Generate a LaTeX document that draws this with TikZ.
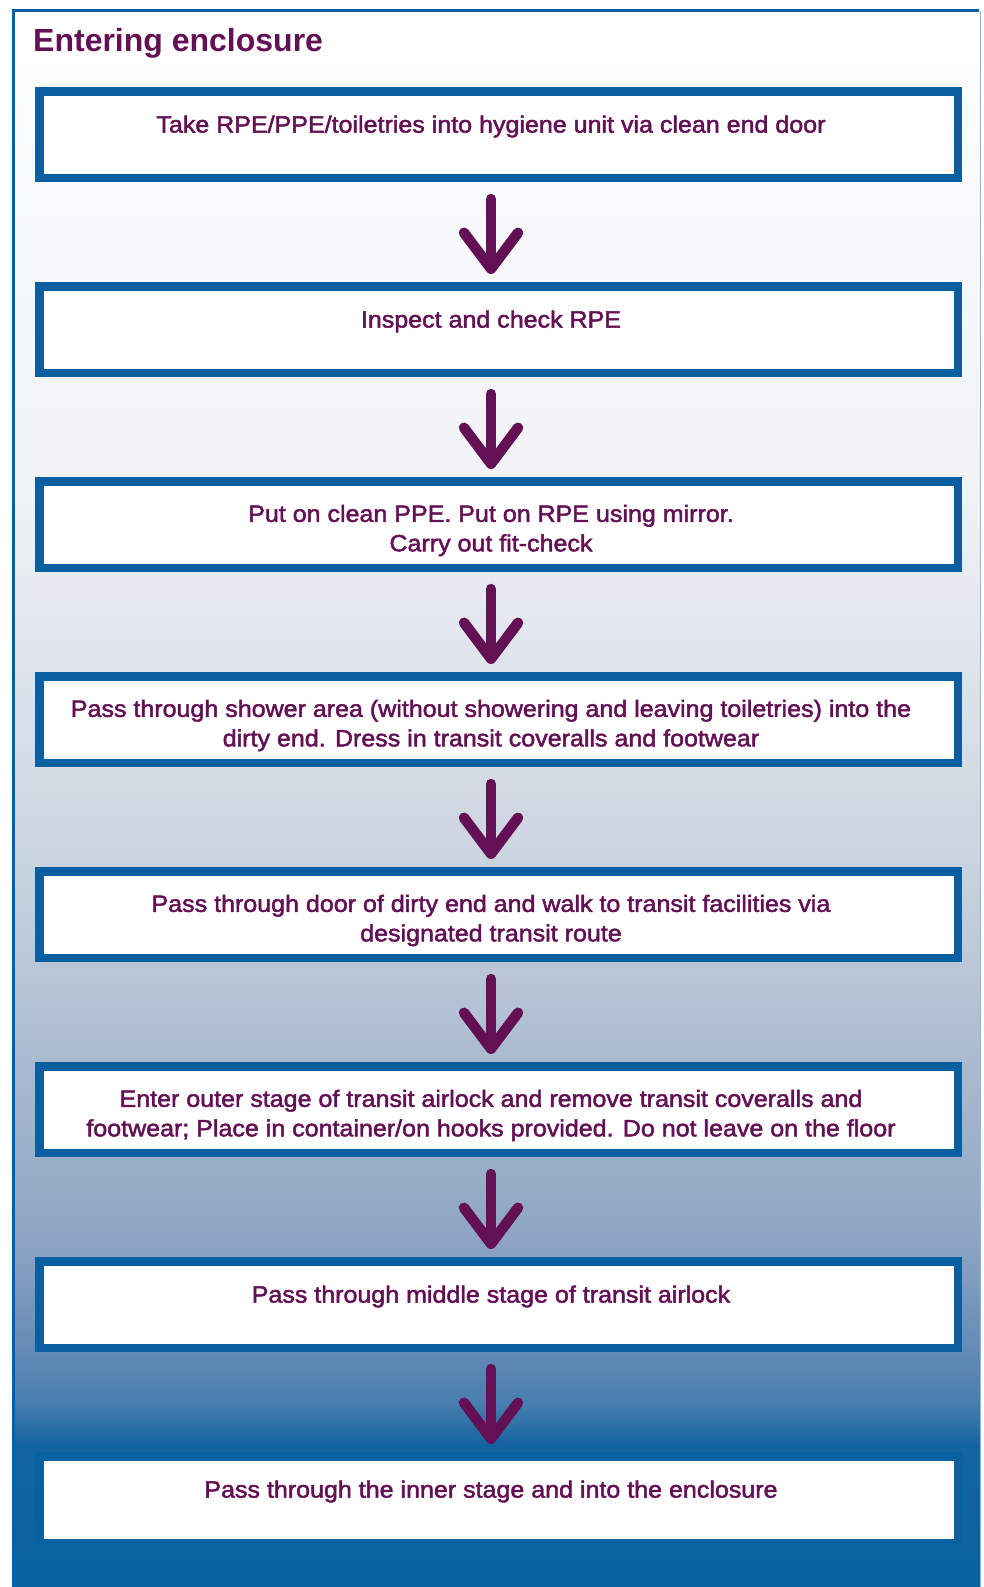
\documentclass[tikz,border=0pt]{standalone}
\usepackage{fontspec}
\setmainfont{Liberation Sans}
\newfontfamily\stepfont[FakeBold=2,FakeStretch=1.065]{Liberation Sans}
\usetikzlibrary{arrows.meta}
\definecolor{plum}{RGB}{100,16,84}
\definecolor{frameblue}{RGB}{10,95,160}
\definecolor{bga}{RGB}{240,242,246}
\definecolor{bgb}{RGB}{200,210,222}
\definecolor{bgc}{RGB}{164,182,204}
\definecolor{bgd}{RGB}{139,163,194}
\definecolor{bge}{RGB}{100,138,182}
\definecolor{bgf}{RGB}{70,125,175}
\definecolor{bgg}{RGB}{20,100,161}
\definecolor{bgh}{RGB}{8,98,160}
\begin{document}
\begin{tikzpicture}[x=1pt,y=-1pt]
		\tikzstyle{every node}+=[inner sep=0pt]
		\tikzstyle{stepbox}=[draw=frameblue,fill=white,line width=8.5pt,minimum width=918.5pt,minimum height=86.5pt]
		\tikzstyle{steptext}=[text=plum,font=\stepfont\fontsize{23.5}{29.5}\selectfont,align=center]
		\tikzstyle{flow}=[draw=plum,line width=10.5pt,line cap=round,-{Straight Barb[length=36pt,width=54pt,round]}]
		\useasboundingbox (0,0) rectangle (984,1587);
		\fill [white] (0,0) rectangle (984,1587);
		\foreach \ya/\yb/\ca/\cb in {12/500/white/bga, 500/880/bga/bgb, 880/1100/bgb/bgc, 1100/1250/bgc/bgd, 1250/1350/bgd/bge, 1350/1405/bge/bgf, 1405/1445/bgf/bgg, 1445/1590/bgg/bgh}
			\shade [top color=\ca,bottom color=\cb] (15,\ya-0.5) rectangle (980,\yb+0.5);
		\draw [frameblue,line width=3pt] (13.5,1600) |- (979,11);
		\draw [frameblue!45,line width=1.5pt] (980.5,11) -- (980.5,1600);
		\draw (33,51.5) node [anchor=base west,text=plum,font=\bfseries\fontsize{32}{38}\selectfont] (title) {Entering enclosure};
		\node [stepbox] (b1) at (498.5,134.5) {};
		\node [stepbox] (b2) at (498.5,329.5) {};
		\node [stepbox] (b3) at (498.5,524.5) {};
		\node [stepbox] (b4) at (498.5,719.5) {};
		\node [stepbox] (b5) at (498.5,914.5) {};
		\node [stepbox] (b6) at (498.5,1109.5) {};
		\node [stepbox] (b7) at (498.5,1304.5) {};
		\node [stepbox,draw=bgh] (b8) at (498.5,1499.5) {};
		\node [steptext] (t1) at ([xshift=-7.5pt,yshift=8pt]b1.center) {Take RPE/PPE/toiletries into hygiene unit via clean end door};
		\node [steptext] (t2) at ([xshift=-7.5pt,yshift=8pt]b2.center) {Inspect and check RPE};
		\node [steptext] (t3) at ([xshift=-7.5pt,yshift=-6pt]b3.center) {Put on clean PPE. Put on RPE using mirror.\\Carry out fit-check};
		\node [steptext] (t4) at ([xshift=-7.5pt,yshift=-6pt]b4.center) {Pass through shower area (without showering and leaving toiletries) into the\\dirty end. Dress in transit coveralls and footwear};
		\node [steptext] (t5) at ([xshift=-7.5pt,yshift=-6pt]b5.center) {Pass through door of dirty end and walk to transit facilities via\\designated transit route};
		\node [steptext] (t6) at ([xshift=-7.5pt,yshift=-6pt]b6.center) {Enter outer stage of transit airlock and remove transit coveralls and\\footwear; Place in container/on hooks provided. Do not leave on the floor};
		\node [steptext] (t7) at ([xshift=-7.5pt,yshift=8pt]b7.center) {Pass through middle stage of transit airlock};
		\node [steptext] (t8) at ([xshift=-7.5pt,yshift=8pt]b8.center) {Pass through the inner stage and into the enclosure};
		\foreach \a/\b in {b1/b2,b2/b3,b3/b4,b4/b5,b5/b6,b6/b7,b7/b8}
			\draw [flow] ([xshift=-7.5pt,yshift=-17pt]\a.south) -- ([xshift=-7.5pt,yshift=8pt]\b.north);
\end{tikzpicture}
\end{document}
